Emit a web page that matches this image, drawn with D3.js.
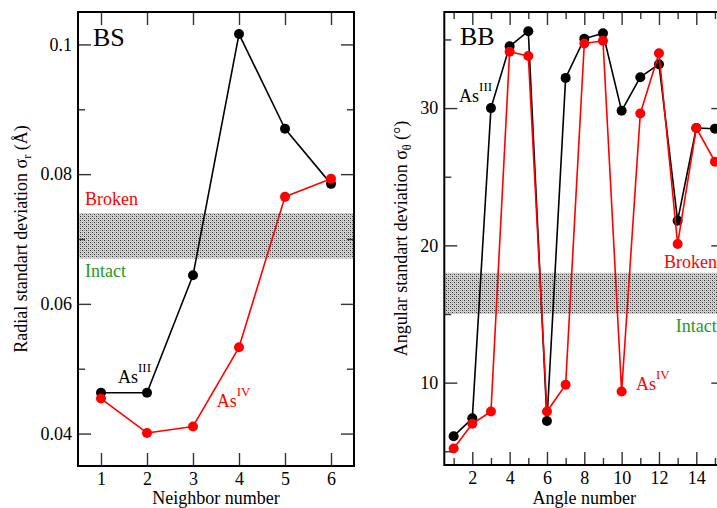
<!DOCTYPE html>
<html>
<head>
<meta charset="utf-8">
<script src="https://cdn.jsdelivr.net/npm/d3@7"></script>
<style>
  html, body { margin: 0; padding: 0; background: #fff; overflow: hidden; }
  svg { display: block; }
  text { font-family: "Liberation Serif", "Times New Roman", serif; }
</style>
</head>
<body>
<script>
// ---------- DATA ----------
const bsNeighbors = [1, 2, 3, 4, 5, 6];
const bsAsIII = [0.0463, 0.0463, 0.0644, 0.1016, 0.0870, 0.0785];
const bsAsIV  = [0.0454, 0.0401, 0.0411, 0.0533, 0.0765, 0.0793];
const bsBand  = [0.067, 0.074];
const bsXTicks = [1, 2, 3, 4, 5, 6];
const bsYMajor = [0.04, 0.06, 0.08, 0.1];
const bsYMinor = [0.05, 0.07, 0.09];

const bbAngles = [1, 2, 3, 4, 5, 6, 7, 8, 9, 10, 11, 12, 13, 14, 15];
const bbAsIII = [6.1, 7.4, 30.0, 34.5, 35.6, 7.2, 32.2, 35.05, 35.45, 29.8, 32.25, 33.2, 21.8, 28.55, 28.5];
const bbAsIV  = [5.2, 7.0, 7.9, 34.1, 33.8, 7.9, 9.85, 34.7, 34.9, 9.35, 29.6, 34.0, 20.1, 28.55, 26.1];
const bbBand  = [15, 18];
const bbXMajor = [2, 4, 6, 8, 10, 12, 14];
const bbXMinor = [1, 3, 5, 7, 9, 11, 13, 15];
const bbYMajor = [10, 20, 30];
const bbYMinor = [5, 15, 25, 35];

// ---------- SETUP ----------
const W = 717, H = 508;
const svg = d3.select("body").append("svg").attr("width", W).attr("height", H);
const RED = "#ff0000", GREEN = "#1e9a1e", BLACK = "#000";
const FONT = 18;

// stipple pattern for band
const defs = svg.append("defs");
const pat = defs.append("pattern").attr("id", "stipple")
  .attr("width", 4).attr("height", 4).attr("patternUnits", "userSpaceOnUse");
pat.append("rect").attr("width", 4).attr("height", 4).attr("fill", "#d4d4d4");
[[0,0,"#333"],[2,2,"#333"],[0,2,"#888"],[2,0,"#999"],[1,1,"#bbb"],[3,3,"#bbb"]].forEach(([x,y,c]) =>
  pat.append("rect").attr("x", x).attr("y", y).attr("width", 1).attr("height", 1).attr("fill", c));

function panel(cfg) {
  const x = d3.scaleLinear().domain(cfg.xDomain).range(cfg.xRange);
  const y = d3.scaleLinear().domain(cfg.yDomain).range(cfg.yRange);
  const g = svg.append("g");
  const [x0, x1] = cfg.xRange, [y0, y1] = cfg.yRange; // y0 bottom, y1 top

  // band
  g.append("rect")
    .attr("x", x0).attr("width", x1 - x0)
    .attr("y", y(cfg.band[1])).attr("height", y(cfg.band[0]) - y(cfg.band[1]))
    .attr("fill", "url(#stipple)");

  // series
  const line = d3.line().x((d, i) => x(cfg.xs[i])).y(d => y(d));
  cfg.series.forEach(s => {
    g.append("path").datum(s.values)
      .attr("d", line).attr("fill", "none")
      .attr("stroke", s.color).attr("stroke-width", 1.6).attr("stroke-linejoin", "round");
    g.selectAll(null).data(s.values).enter().append("circle")
      .attr("cx", (d, i) => x(cfg.xs[i])).attr("cy", d => y(d))
      .attr("r", 5).attr("fill", s.color);
  });

  const MAJ = 13, MIN = 7;
  function styleAxis(sel) {
    sel.select(".domain").remove();
    sel.selectAll(".tick line").attr("stroke", "#333").attr("stroke-width", 1.4);
    sel.selectAll(".tick text").attr("font-size", FONT).attr("fill", "#000")
      .style("font-family", '"Liberation Serif", "Times New Roman", serif');
  }
  // bottom
  g.append("g").attr("transform", `translate(0,${y0})`)
    .call(d3.axisBottom(x).tickValues(cfg.xMajor).tickSize(-MAJ).tickPadding(6).tickFormat(d3.format("d")))
    .call(styleAxis);
  if (cfg.xMinor) g.append("g").attr("transform", `translate(0,${y0})`)
    .call(d3.axisBottom(x).tickValues(cfg.xMinor).tickSize(-MIN).tickFormat(""))
    .call(styleAxis);
  // top
  g.append("g").attr("transform", `translate(0,${y1})`)
    .call(d3.axisTop(x).tickValues(cfg.xMajor).tickSize(-MAJ).tickFormat(""))
    .call(styleAxis);
  if (cfg.xMinor) g.append("g").attr("transform", `translate(0,${y1})`)
    .call(d3.axisTop(x).tickValues(cfg.xMinor).tickSize(-MIN).tickFormat(""))
    .call(styleAxis);
  // left
  g.append("g").attr("transform", `translate(${x0},0)`)
    .call(d3.axisLeft(y).tickValues(cfg.yMajor).tickSize(-MAJ).tickPadding(6).tickFormat(d3.format("~g")))
    .call(styleAxis);
  g.append("g").attr("transform", `translate(${x0},0)`)
    .call(d3.axisLeft(y).tickValues(cfg.yMinor).tickSize(-MIN).tickFormat(""))
    .call(styleAxis);
  // right
  g.append("g").attr("transform", `translate(${x1},0)`)
    .call(d3.axisRight(y).tickValues(cfg.yMajor).tickSize(-MAJ).tickFormat(""))
    .call(styleAxis);
  g.append("g").attr("transform", `translate(${x1},0)`)
    .call(d3.axisRight(y).tickValues(cfg.yMinor).tickSize(-MIN).tickFormat(""))
    .call(styleAxis);

  // frame
  g.append("rect").attr("x", x0).attr("y", y1).attr("width", x1 - x0).attr("height", y0 - y1)
    .attr("fill", "none").attr("stroke", "#000").attr("stroke-width", 2);

  // x title
  g.append("text").attr("x", (x0 + x1 > 2 * W ? (x0 + W) : (x0 + x1)) / 2).attr("y", 504)
    .attr("text-anchor", "middle").attr("font-size", FONT).text(cfg.xTitle);

  // y title
  const yt = g.append("text")
    .attr("transform", `translate(${cfg.yTitleX},${(y0 + y1) / 2}) rotate(-90)`)
    .attr("text-anchor", "middle").attr("font-size", FONT);
  yt.append("tspan").text(cfg.yTitle[0]);
  yt.append("tspan").attr("font-size", 12).attr("dy", 4).text(cfg.yTitle[1]);
  yt.append("tspan").attr("dy", -4).text(cfg.yTitle[2]);

  // panel label
  g.append("text").attr("x", x(cfg.tag.x)).attr("y", y(cfg.tag.y))
    .attr("font-size", 26).text(cfg.tag.t);

  // band labels
  g.append("text").attr("x", x(cfg.broken.x)).attr("y", y(cfg.broken.y))
    .attr("font-size", FONT).attr("fill", RED).text("Broken");
  g.append("text").attr("x", x(cfg.intact.x)).attr("y", y(cfg.intact.y))
    .attr("font-size", FONT).attr("fill", GREEN).text("Intact");

  // series labels
  [[cfg.lblIII, "III", BLACK], [cfg.lblIV, "IV", RED]].forEach(([p, sup, c]) => {
    const t = g.append("text").attr("x", x(p.x)).attr("y", y(p.y))
      .attr("font-size", FONT).attr("fill", c);
    t.append("tspan").text("As");
    t.append("tspan").attr("font-size", 13).attr("dy", -11).text(sup);
  });
}

panel({
  xDomain: [0.5, 6.5], xRange: [78, 354],
  yDomain: [0.035, 0.105], yRange: [466, 12],
  xs: bsNeighbors,
  series: [{ values: bsAsIII, color: BLACK }, { values: bsAsIV, color: RED }],
  band: bsBand,
  xMajor: bsXTicks, xMinor: null,
  yMajor: bsYMajor, yMinor: bsYMinor,
  xTitle: "Neighbor number",
  yTitle: ["Radial standart deviation σ", "r", " (Å)"],
  yTitleX: 27,
  tag: { t: "BS", x: 0.826, y: 0.0998 },
  broken: { x: 0.652, y: 0.0752 },
  intact: { x: 0.652, y: 0.0642 },
  lblIII: { x: 1.37, y: 0.0478 },
  lblIV: { x: 3.515, y: 0.0441 }
});

panel({
  xDomain: [0.5, 15.5], xRange: [444.3, 724.3],
  yDomain: [4, 37], yRange: [465, 12],
  xs: bbAngles,
  series: [{ values: bbAsIII, color: BLACK }, { values: bbAsIV, color: RED }],
  band: bbBand,
  xMajor: bbXMajor, xMinor: bbXMinor,
  yMajor: bbYMajor, yMinor: bbYMinor,
  xTitle: "Angle number",
  yTitle: ["Angular standart deviation σ", "θ", " (°)"],
  yTitleX: 407,
  tag: { t: "BB", x: 1.34, y: 34.6 },
  broken: { x: 12.27, y: 18.33 },
  intact: { x: 12.9, y: 13.72 },
  lblIII: { x: 1.29, y: 30.47 },
  lblIV: { x: 10.77, y: 9.47 }
});
</script>
</body>
</html>
